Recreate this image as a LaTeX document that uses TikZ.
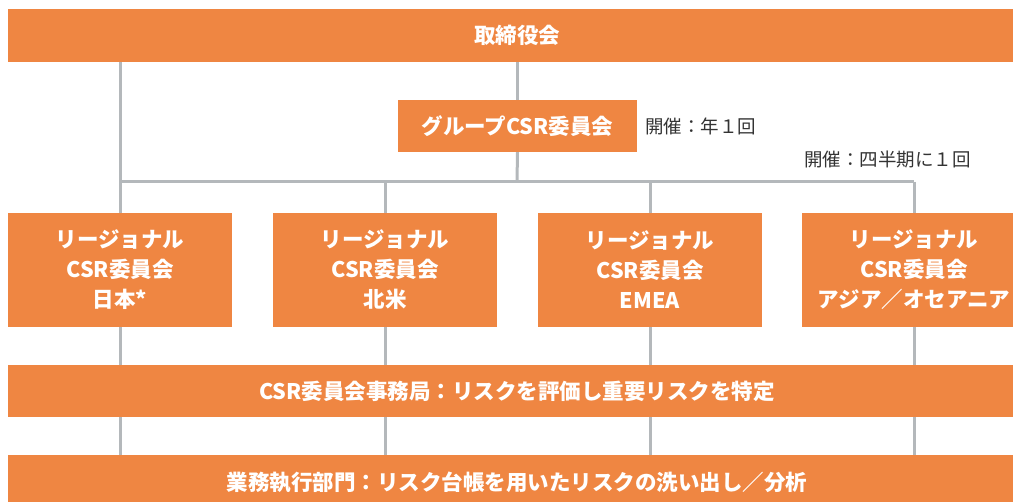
\documentclass[tikz,border=0pt]{standalone}
\usepackage{fontspec}
\setmainfont{Noto Sans CJK JP}
\definecolor{boxorange}{HTML}{EF8642}
\definecolor{linegrey}{HTML}{B4B8BB}
\definecolor{notegrey}{HTML}{333333}
\begin{document}
\begin{tikzpicture}[x=1pt,y=-1pt,
  obox/.style={fill=boxorange,text=white,inner sep=0pt,align=center,
    font=\bfseries\fontsize{21.5}{30}\selectfont},
  bar/.style={obox,minimum width=1018pt,minimum height=53pt},
  region/.style={obox,minimum width=224pt,minimum height=114pt},
  conn/.style={draw=linegrey,line width=3pt},
  note/.style={text=notegrey,inner sep=0pt,font=\fontsize{18.5}{22}\selectfont}]
\useasboundingbox (0,0) rectangle (1013,502);
\clip (0,0) rectangle (1013,502);
% nodes
\node[bar] (board) at (517,35.5) {取締役会};
\node[obox,minimum width=239pt,minimum height=52pt] (group) at (517.5,126) {グループCSR委員会};
\node[note,anchor=west] (note1) at (645,126) {開催：年１回};
\node[note,anchor=east] (note2) at (971,160) {開催：四半期に１回};
\coordinate (hub) at (517,182);
\node[region] (r1) at (120,270) {リージョナル\\CSR委員会\\日本*};
\node[region] (r2) at (385,270) {リージョナル\\CSR委員会\\北米};
\node[region] (r3) at (650,270) {リージョナル\\CSR委員会\\EMEA};
\node[region] (r4) at (914,270) {リージョナル\\CSR委員会\\アジア／オセアニア};
\node[bar,minimum height=52pt] (sec) at (517,391) {CSR委員会事務局：リスクを評価し重要リスクを特定};
\node[bar,minimum height=54pt] (ops) at (517,482) {業務執行部門：リスク台帳を用いたリスクの洗い出し／分析};
% connectors
\draw[conn] (board.south -| group.north) -- (group.north);
\draw[conn] (group.south) -- (hub);
\draw[conn] (hub -| r1.north) -- (hub -| r4.north);
\draw[conn] (board.south -| r1.north) -- (r1.north);
\foreach \r in {r2,r3,r4}{
  \draw[conn] (hub -| \r.north) -- (\r.north);
}
\foreach \r in {r1,r2,r3,r4}{
  \draw[conn] (\r.south) -- (sec.north -| \r.south);
  \draw[conn] (sec.south -| \r.south) -- (ops.north -| \r.south);
}
\end{tikzpicture}
\end{document}
